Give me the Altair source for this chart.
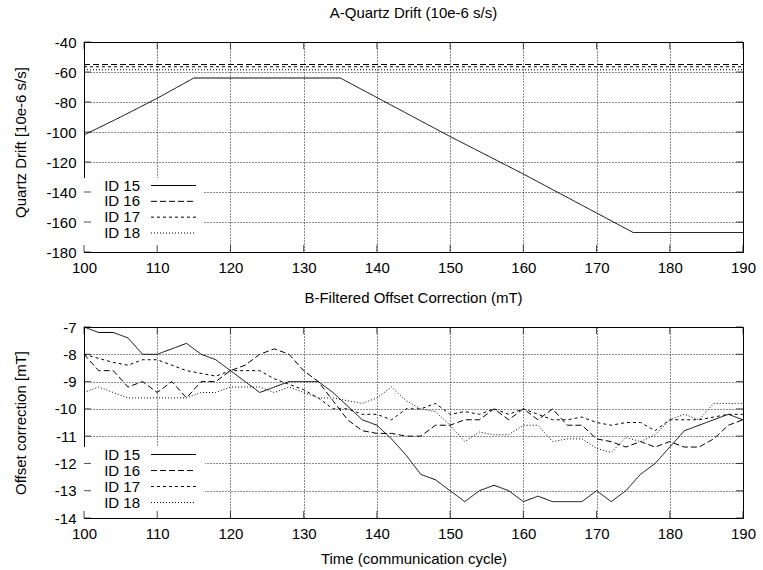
import altair as alt
import pandas as pd

FONT = "Liberation Sans"
FS = 15

series_names = ["ID 15", "ID 16", "ID 17", "ID 18"]
dash_styles = [[1, 0], [6, 3], [3, 3], [1, 2]]

# ---- A: quartz drift (piecewise-linear for ID 15, constant for the others)
drift15_cycle = [100, 105, 110, 115, 135, 140, 150, 160, 170, 175, 190]
drift15_value = [-102, -90, -77.5, -64, -64, -77, -103, -128, -154, -167, -167]
drift_const_cycle = [100, 190]
drift16_value = [-55.0, -55.0]
drift17_value = [-56.5, -56.5]
drift18_value = [-58.5, -58.5]

# ---- B: filtered offset correction, one sample every 2 cycles
cycles = list(range(100, 191, 2))
offset15 = [-7.0, -7.2, -7.2, -7.4, -8.0, -8.0, -7.8, -7.6, -8.0, -8.2,
            -8.6, -9.0, -9.4, -9.2, -9.0, -9.0, -9.0, -9.4, -9.9, -10.4,
            -10.6, -11.1, -11.7, -12.4, -12.6, -13.0, -13.4, -13.0, -12.8, -13.0,
            -13.4, -13.2, -13.4, -13.4, -13.4, -13.0, -13.4, -13.0, -12.4, -12.0,
            -11.4, -10.8, -10.6, -10.4, -10.2, -10.4]
offset16 = [-8.0, -8.6, -8.6, -9.2, -9.0, -9.4, -9.0, -9.6, -9.0, -9.0,
            -8.6, -8.4, -8.0, -7.8, -8.0, -8.6, -9.0, -9.7, -10.4, -10.8,
            -10.9, -10.9, -11.0, -11.0, -10.6, -10.6, -10.4, -10.4, -10.0, -10.4,
            -10.0, -10.4, -10.0, -10.6, -10.6, -11.1, -11.2, -11.4, -11.2, -11.4,
            -11.2, -11.4, -11.4, -11.1, -10.6, -10.4]
offset17 = [-8.0, -8.15, -8.3, -8.4, -8.2, -8.2, -8.4, -8.6, -8.7, -8.8,
            -8.6, -8.6, -8.6, -8.9, -9.1, -9.3, -9.6, -10.0, -10.0, -10.2,
            -10.2, -10.4, -10.0, -10.0, -9.8, -10.2, -10.1, -10.2, -10.0, -10.2,
            -10.0, -10.2, -10.4, -10.4, -10.3, -10.5, -10.6, -10.5, -10.5, -10.8,
            -10.4, -10.4, -10.4, -10.3, -10.2, -10.2]
offset18 = [-9.4, -9.2, -9.4, -9.6, -9.6, -9.6, -9.6, -9.6, -9.4, -9.4,
            -9.2, -9.2, -9.2, -9.4, -9.2, -9.4, -9.6, -9.6, -9.7, -9.8,
            -9.6, -9.2, -9.7, -10.0, -10.1, -10.6, -11.2, -10.85, -10.95, -10.95,
            -10.6, -10.6, -11.2, -11.1, -11.1, -11.45, -11.6, -11.05, -11.2, -10.95,
            -10.4, -10.2, -10.4, -9.8, -9.8, -9.8]

x_ticks = [100, 110, 120, 130, 140, 150, 160, 170, 180, 190]
drift_ticks = [-40, -60, -80, -100, -120, -140, -160, -180]
offset_ticks = [-7, -8, -9, -10, -11, -12, -13, -14]

W = 659
H_TOP = 210
H_BOT = 191
TICK = 7


def long_frame(xs_list, ys_list):
    rows = []
    for name, xs, ys in zip(series_names, xs_list, ys_list):
        for c, v in zip(xs, ys):
            rows.append({"cycle": c, "value": v, "series": name})
    return pd.DataFrame(rows)


drift_df = long_frame(
    [drift15_cycle, drift_const_cycle, drift_const_cycle, drift_const_cycle],
    [drift15_value, drift16_value, drift17_value, drift18_value],
)
offset_df = long_frame([cycles] * 4, [offset15, offset16, offset17, offset18])

dash_scale = alt.Scale(domain=series_names, range=dash_styles)


def panel(df, title, y_title, y_domain, y_ticks, height, x_title, y_title_pos,
          legend_rows, legend_box):
    x_scale = alt.Scale(domain=[100, 190], nice=False, zero=False)
    y_scale = alt.Scale(domain=y_domain, nice=False, zero=False)

    x_axis = alt.Axis(values=x_ticks, title=x_title, titlePadding=10,
                      labelFlush=False, labelExpr="toString(datum.value)")
    y_axis = alt.Axis(values=y_ticks, title=y_title, titleX=-64,
                      titleY=y_title_pos, titleAngle=270, titleAlign="center",
                      titleBaseline="middle", labelFlush=False,
                      labelExpr="toString(datum.value)")
    x_enc = alt.X("cycle:Q", scale=x_scale, axis=x_axis)

    legend_df = pd.DataFrame({"series": series_names})
    leg_y = alt.Y("series:N",
                  scale=alt.Scale(type="point", domain=series_names,
                                  range=legend_rows, padding=0),
                  axis=None)

    box = alt.Chart(pd.DataFrame({"box": [0]})).mark_rect(color="white").encode(
        x=alt.value(0), x2=alt.value(legend_box[0]),
        y=alt.value(legend_box[1]), y2=alt.value(height),
    )

    lines = alt.Chart(df).mark_line(color="black", strokeWidth=1).encode(
        x=x_enc,
        y=alt.Y("value:Q", scale=y_scale, axis=y_axis),
        strokeDash=alt.StrokeDash("series:N", scale=dash_scale, legend=None),
        detail="series:N",
    )

    leg_text = alt.Chart(legend_df).mark_text(
        align="right", baseline="middle", font=FONT, fontSize=FS, color="black"
    ).encode(x=alt.value(56), y=leg_y, text="series:N")

    leg_line = alt.Chart(legend_df).mark_rule(color="black", strokeWidth=1).encode(
        x=alt.value(67), x2=alt.value(112), y=leg_y,
        strokeDash=alt.StrokeDash("series:N", scale=dash_scale, legend=None),
    )

    # inward tick marks on all four sides
    xt = pd.DataFrame({"cycle": x_ticks})
    yt = pd.DataFrame({"value": y_ticks})
    x_tick_bottom = alt.Chart(xt).mark_tick(
        orient="vertical", size=TICK, thickness=1, color="black"
    ).encode(x=x_enc, y=alt.value(height - TICK / 2))
    x_tick_top = alt.Chart(xt).mark_tick(
        orient="vertical", size=TICK, thickness=1, color="black"
    ).encode(x=x_enc, y=alt.value(TICK / 2))
    y_tick_left = alt.Chart(yt).mark_tick(
        orient="horizontal", size=TICK, thickness=1, color="black"
    ).encode(y=alt.Y("value:Q", scale=y_scale, axis=None),
             x=alt.value(TICK / 2))
    y_tick_right = alt.Chart(yt).mark_tick(
        orient="horizontal", size=TICK, thickness=1, color="black"
    ).encode(y=alt.Y("value:Q", scale=y_scale, axis=None),
             x=alt.value(W - TICK / 2))

    return alt.layer(
        box, lines, leg_text, leg_line,
        x_tick_bottom, x_tick_top, y_tick_left, y_tick_right,
    ).resolve_scale(y="independent").properties(
        width=W, height=height,
        title=alt.TitleParams(title, font=FONT, fontSize=FS, fontWeight="normal",
                              color="black", anchor="middle", frame="group",
                              offset=14),
    )


top = panel(drift_df, "A-Quartz Drift (10e-6 s/s)", "Quartz Drift [10e-6 s/s]",
            [-180, -40], drift_ticks, H_TOP, None, 100,
            [143.5, 191], (120, 136))
bottom = panel(offset_df, "B-Filtered Offset Correction (mT)",
               "Offset correction [mT]", [-14, -7], offset_ticks, H_BOT,
               "Time (communication cycle)", H_BOT / 2,
               [127.5, 175.5], (121, 120))

chart = alt.vconcat(top, bottom, spacing=14).configure(
    padding={"left": 12, "top": 5, "right": 5, "bottom": 5},
    background="white",
).configure_view(
    stroke="black", strokeWidth=1
).configure_axis(
    domain=False, ticks=False, grid=True, gridColor="#000000",
    gridDash=[1, 2], gridWidth=1, gridOpacity=0.9,
    labelFont=FONT, labelFontSize=FS, labelColor="black", labelPadding=8,
    titleFont=FONT, titleFontSize=FS, titleFontWeight="normal", titleColor="black",
)

chart.save("out.html", embed_options={"renderer": "svg", "actions": False})
